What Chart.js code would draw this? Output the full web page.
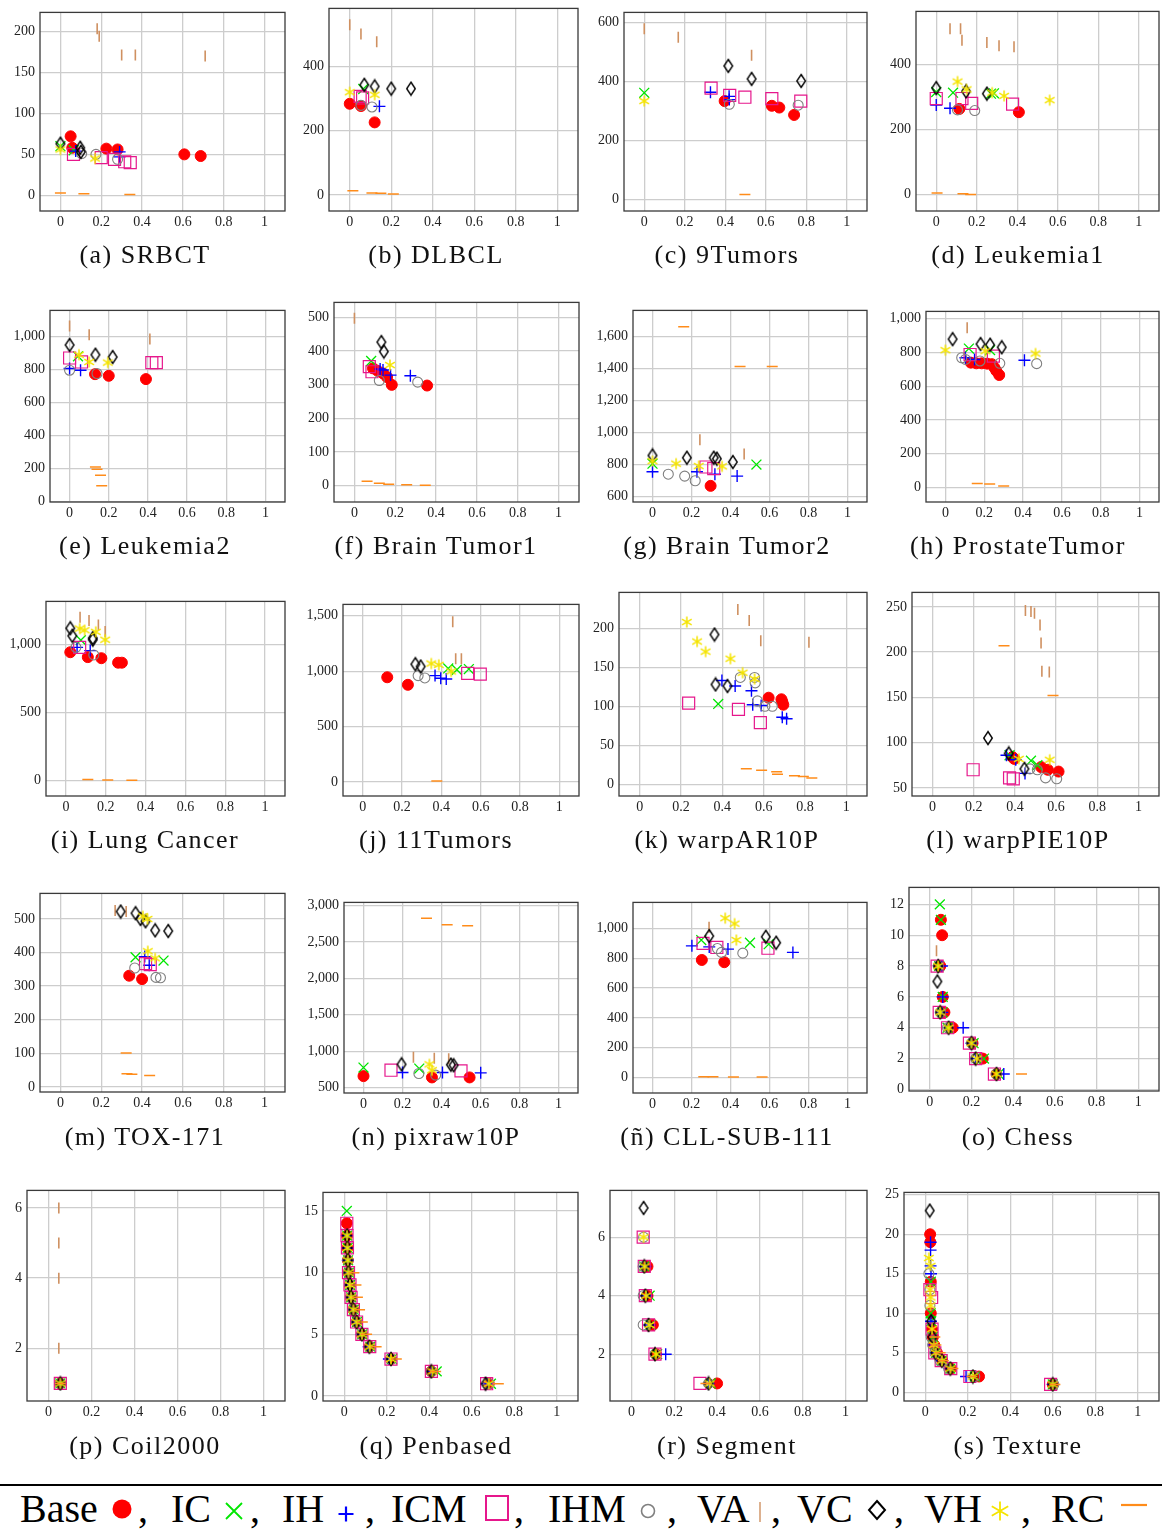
<!DOCTYPE html>
<html><head><meta charset="utf-8">
<script src="https://cdn.jsdelivr.net/npm/chart.js@4.4.1/dist/chart.umd.min.js"></script>
<style>
html,body{margin:0;padding:0;background:#fff;}
#page{position:relative;width:1162px;height:1538px;overflow:hidden;font-family:'Liberation Serif',serif;}
#page canvas{position:absolute;}
.cap{position:absolute;width:290px;text-align:center;font-size:26px;letter-spacing:1.5px;line-height:30px;height:30px;color:#111;white-space:nowrap;}
.lg{position:absolute;font-size:40px;line-height:40px;color:#000;white-space:nowrap;}
#rule{position:absolute;left:0;top:1484px;width:1162px;height:2px;background:#000;}
</style></head><body><div id="page"><div id="rule"></div></div>
<script>
// ---------------- DATA ----------------
const seriesNames = ['Base','IC','IH','ICM','IHM','VA','VC','VH','RC'];
const captions = ['(a) SRBCT','(b) DLBCL','(c) 9Tumors','(d) Leukemia1','(e) Leukemia2','(f) Brain Tumor1','(g) Brain Tumor2','(h) ProstateTumor','(i) Lung Cancer','(j) 11Tumors','(k) warpAR10P','(l) warpPIE10P','(m) TOX-171','(n) pixraw10P','(ñ) CLL-SUB-111','(o) Chess','(p) Coil2000','(q) Penbased','(r) Segment','(s) Texture'];
const xTickValues = [0,0.2,0.4,0.6,0.8,1];
const xLimits = [-0.1,1.1];
const yLimits = [[-19,223],[-50,581],[-39,633],[-50,564],[-4,1159],[-49,544],[565,1764],[-85,1042],[-116,1316],[-127,1603],[-15,246],[41,266],[-15,576],[425,3045],[-105,1176],[-0.1,13.1],[0.5,6.5],[-0.4,16.5],[0.4,7.6],[-1.1,25.3]];
const yTickValues = [[0,50,100,150,200],[0,200,400],[0,200,400,600],[0,200,400],[0,200,400,600,800,1000],[0,100,200,300,400,500],[600,800,1000,1200,1400,1600],[0,200,400,600,800,1000],[0,500,1000],[0,500,1000,1500],[0,50,100,150,200],[50,100,150,200,250],[0,100,200,300,400,500],[500,1000,1500,2000,2500,3000],[0,200,400,600,800,1000],[0,2,4,6,8,10,12],[2,4,6],[0,5,10,15],[2,4,6],[0,5,10,15,20,25]];

const baseData = [
 [[0.05,72],[0.058,58],[0.225,57],[0.28,56],[0.607,50],[0.687,48]],
 [[0,284],[0.054,277],[0.12,226]],
 [[0.397,333],[0.63,317],[0.667,311],[0.74,286]],
 [[0.114,264],[0.408,254]],
 [[0.13,772],[0.2,762],[0.39,742]],
 [[0.091,348],[0.113,341],[0.14,333],[0.16,322],[0.183,299],[0.356,297]],
 [[0.298,666]],
 [[0.131,739],[0.159,735],[0.187,735],[0.215,733],[0.239,730],[0.252,710],[0.262,691],[0.277,666]],
 [[0.022,942],[0.11,906],[0.178,898],[0.262,865],[0.281,865]],
 [[0.125,945],[0.23,877]],
 [[0.624,111],[0.686,109],[0.69,106],[0.695,102]],
 [[0.388,84],[0.397,82],[0.527,73],[0.56,70],[0.612,68]],
 [[0.337,331],[0.4,321]],
 [[0,657],[0.351,639],[0.544,639]],
 [[0.253,789],[0.368,774]],
 [[0.053,11],[0.059,10],[0.05,8],[0.062,6],[0.07,5],[0.11,4],[0.205,3],[0.254,2],[0.32,1]],
 [[0.055,1]],
 [[0.012,14],[0.013,13],[0.015,12],[0.017,11],[0.02,10],[0.027,9],[0.032,8],[0.043,7],[0.058,6],[0.083,5],[0.12,4],[0.22,3],[0.41,2],[0.68,1]],
 [[0.075,5],[0.075,4],[0.1,3],[0.115,2],[0.4,1]],
 [[0.023,20],[0.024,19],[0.026,14],[0.026,10],[0.032,8],[0.036,7],[0.042,6],[0.055,5],[0.08,4],[0.12,3],[0.253,2],[0.6,1]]
];
const icData = [
 [[0,60],[0.065,55]],
 [[0.065,330]],
 [[0,361]],
 [[0,316],[0.083,314],[0.27,311],[0.285,312]],
 [[0.043,880]],
 [[0.082,370]],
 [[0,805],[0.533,799]],
 [[0.121,822],[0.23,813]],
 [[0.075,1031]],
 [[0.435,1025],[0.479,1013],[0.54,1019]],
 [[0.38,103]],
 [[0.374,86],[0.478,80],[0.509,75]],
 [[0.368,386],[0.505,376]],
 [[0,774],[0.286,761]],
 [[0.25,923],[0.5,905],[0.596,895]],
 [[0.048,12],[0.053,11],[0.045,8],[0.062,6],[0.06,5],[0.085,4],[0.21,3],[0.26,2],[0.33,1]],
 [[0.055,1]],
 [[0.012,15],[0.014,13],[0.016,12],[0.018,11],[0.022,10],[0.028,9],[0.033,8],[0.045,7],[0.06,6],[0.085,5],[0.123,4],[0.225,3],[0.435,2],[0.69,1]],
 [[0.06,5],[0.085,4],[0.09,3],[0.12,2],[0.37,1]],
 [[0.026,14],[0.026,10],[0.028,9],[0.036,7],[0.05,5],[0.078,4],[0.118,3],[0.233,2],[0.6,1]]
];
const ihData = [
 [[0.075,54],[0.29,53],[0.29,47]],
 [[0.143,276]],
 [[0.327,363],[0.419,349],[0.42,338]],
 [[0,276],[0.068,266]],
 [[0,806],[0.056,796]],
 [[0.126,346],[0.14,343],[0.177,328],[0.274,326]],
 [[0,754],[0.228,754],[0.32,739],[0.434,727]],
 [[0.103,768],[0.15,758],[0.407,753]],
 [[0.056,978],[0.122,954]],
 [[0.368,960],[0.397,936],[0.425,930]],
 [[0.398,133],[0.462,126],[0.541,120],[0.547,102],[0.588,101],[0.69,86],[0.711,84]],
 [[0.359,86],[0.404,81],[0.449,66]],
 [[0.413,388],[0.435,362]],
 [[0.2,707],[0.405,707],[0.601,702]],
 [[0.202,884],[0.291,877],[0.387,862],[0.72,840]],
 [[0.058,8],[0.062,6],[0.06,5],[0.16,4],[0.2,3],[0.22,2],[0.355,1]],
 [[0.055,1]],
 [[0.012,13],[0.015,12],[0.017,11],[0.02,10],[0.027,9],[0.032,8],[0.043,7],[0.056,6],[0.082,5],[0.115,4],[0.21,3],[0.41,2],[0.675,1]],
 [[0.065,5],[0.07,4],[0.085,3],[0.16,2],[0.36,1]],
 [[0.025,19],[0.025,18],[0.025,16],[0.027,15],[0.027,9],[0.04,6],[0.05,5],[0.075,4],[0.115,3],[0.192,2],[0.6,1]]
];
const icmData = [
 [[0.064,50],[0.2,46],[0.265,44],[0.315,41],[0.342,40]],
 [[0.05,307],[0.062,302]],
 [[0.33,377],[0.422,352],[0.497,346],[0.63,341],[0.773,333]],
 [[0,296],[0.127,296],[0.175,281],[0.377,279]],
 [[0,870],[0.061,846],[0.42,842],[0.443,842]],
 [[0.073,353],[0.086,338]],
 [[0.274,784],[0.314,774]],
 [[0.127,787],[0.247,778]],
 [[0.069,978]],
 [[0.534,980],[0.598,974]],
 [[0.237,104],[0.478,96],[0.584,79]],
 [[0.197,70],[0.374,61],[0.392,60]],
 [[0.417,367],[0.44,364]],
 [[0.141,738],[0.5,729]],
 [[0.259,901],[0.33,873],[0.592,868]],
 [[0.035,8],[0.045,5],[0.085,4],[0.19,3],[0.22,2],[0.31,1]],
 [[0.055,1]],
 [[0.012,14],[0.013,13],[0.015,12],[0.02,10],[0.027,9],[0.032,8],[0.043,7],[0.058,6],[0.083,5],[0.12,4],[0.22,3],[0.41,2],[0.67,1]],
 [[0.055,6],[0.06,5],[0.065,4],[0.08,3],[0.11,2],[0.32,1]],
 [[0.022,13],[0.03,12],[0.032,8],[0.045,5],[0.075,4],[0.12,3],[0.21,2],[0.59,1]]
];
const ihmData = [
 [[0.104,51],[0.174,50],[0.28,44]],
 [[0.054,279],[0.107,274]],
 [[0.42,322],[0.76,319]],
 [[0.105,261],[0.19,259]],
 [[0,796],[0.14,776]],
 [[0.122,312],[0.31,307]],
 [[0.081,739],[0.165,727],[0.219,698]],
 [[0.084,768],[0.103,758],[0.178,749],[0.28,735],[0.47,733]],
 [[0.05,978],[0.14,922]],
 [[0.282,960],[0.316,939]],
 [[0.487,137],[0.556,137],[0.559,130],[0.57,107],[0.606,100],[0.642,100]],
 [[0.473,71],[0.509,70],[0.549,61],[0.603,60]],
 [[0.364,354],[0.468,326],[0.49,325]],
 [[0.284,693],[0.37,671]],
 [[0.333,866],[0.354,840],[0.463,835]],
 [[0.04,8],[0.05,5],[0.085,4],[0.2,3],[0.22,2],[0.32,1]],
 [[0.055,1]],
 [[0.017,11],[0.02,10],[0.027,9],[0.032,8],[0.043,7],[0.058,6],[0.083,5],[0.12,4],[0.22,3],[0.41,2],[0.68,1]],
 [[0.057,6],[0.055,5],[0.055,4],[0.055,3],[0.11,2],[0.36,1]],
 [[0.017,15],[0.022,13],[0.022,11],[0.028,7],[0.035,6],[0.045,5],[0.07,4],[0.11,3],[0.233,2],[0.605,1]]
];
const vaData = [
 [[0.18,203],[0.19,194],[0.30,171],[0.367,171],[0.709,170]],
 [[0,530],[0.054,501],[0.13,477]],
 [[0,578],[0.168,549],[0.53,488]],
 [[0.068,511],[0.12,511],[0.127,475],[0.25,468],[0.31,458],[0.384,455]],
 [[0,1065],[0.1,1011],[0.41,985]],
 [[0,497]],
 [[0.243,954],[0.47,866]],
 [[0.112,946]],
 [[0.071,1200],[0.116,1176],[0.163,1142],[0.197,1094]],
 [[0.458,1447],[0.473,1113],[0.502,1113]],
 [[0.475,224],[0.53,210],[0.586,184],[0.819,182]],
 [[0.451,246],[0.478,245],[0.495,243],[0.522,230],[0.527,210],[0.531,179],[0.567,178]],
 [[0.268,525],[0.322,522]],
 [[0.256,918],[0.363,904],[0.437,895]],
 [[0.29,1009]],
 [[0.032,9]],
 [[0.048,6],[0.048,5],[0.048,4],[0.048,2]],
 [],
 [],
 []
];
const vcData = [
 [[0,63],[0.097,58],[0.1,53]],
 [[0.07,343],[0.12,338],[0.2,331],[0.295,331]],
 [[0.415,452],[0.53,408],[0.775,401]],
 [[0,328],[0.147,318],[0.25,311]],
 [[0,949],[0.132,890],[0.22,876]],
 [[0.132,426],[0.144,398]],
 [[0,856],[0.176,842],[0.314,842],[0.33,836],[0.412,815]],
 [[0.037,878],[0.181,849],[0.23,845],[0.29,830]],
 [[0.022,1118],[0.032,1063],[0.135,1046],[0.135,1034]],
 [[0.268,1063],[0.295,1042]],
 [[0.362,192],[0.367,128],[0.425,126]],
 [[0.269,105],[0.37,88],[0.446,71]],
 [[0.295,522],[0.368,517],[0.392,500],[0.417,493],[0.464,466],[0.528,464]],
 [[0.195,819],[0.448,815],[0.462,806]],
 [[0.291,950],[0.581,945],[0.634,905]],
 [[0.036,7],[0.04,8],[0.05,5],[0.09,4],[0.2,3],[0.22,2],[0.32,1]],
 [[0.055,1]],
 [[0.013,13],[0.015,12],[0.017,11],[0.02,10],[0.027,9],[0.032,8],[0.043,7],[0.058,6],[0.083,5],[0.118,4],[0.22,3],[0.41,2],[0.665,1]],
 [[0.057,7],[0.06,5],[0.065,4],[0.08,3],[0.11,2],[0.36,1]],
 [[0.021,23],[0.028,9],[0.034,7],[0.048,5],[0.078,4],[0.118,3],[0.224,2],[0.6,1]]
];
const vhData = [
 [[0,56],[0.17,45]],
 [[0,320],[0.12,312]],
 [[0,333]],
 [[0.105,348],[0.15,324],[0.276,314],[0.335,304],[0.56,291]],
 [[0.048,890],[0.1,846],[0.195,842]],
 [[0.174,358]],
 [[0,821],[0.121,805],[0.237,790],[0.357,788]],
 [[0,813],[0.206,807],[0.464,793]],
 [[0.069,1116],[0.094,1104],[0.15,1092],[0.197,1034]],
 [[0.349,1069],[0.387,1057],[0.45,998]],
 [[0.228,208],[0.278,183],[0.319,170],[0.439,161],[0.498,143],[0.556,135]],
 [[0.419,82],[0.569,81]],
 [[0.404,508],[0.426,500],[0.428,404],[0.464,383]],
 [[0.338,819],[0.351,738]],
 [[0.373,1070],[0.421,1033],[0.43,923]],
 [[0.04,8],[0.05,5],[0.09,4],[0.2,3],[0.225,2],[0.32,1]],
 [[0.055,1]],
 [[0.013,13],[0.015,12],[0.017,11],[0.02,10],[0.027,9],[0.032,8],[0.043,7],[0.058,6],[0.083,5],[0.12,4],[0.22,3],[0.415,2],[0.68,1]],
 [[0.057,6],[0.062,5],[0.068,4],[0.085,3],[0.115,2],[0.365,1]],
 [[0.017,17],[0.025,16],[0.023,13],[0.025,12],[0.025,11],[0.032,8],[0.04,6],[0.05,5],[0.078,4],[0.118,3],[0.224,2],[0.6,1]]
];
const rcData = [
 [[0,3],[0.115,2],[0.34,1]],
 [[0.015,13],[0.107,6],[0.15,5],[0.21,3]],
 [[0.497,17]],
 [[0.004,5],[0.132,3],[0.17,1]],
 [[0.132,209],[0.14,195],[0.158,159],[0.164,94]],
 [[0.062,13],[0.122,7],[0.168,4],[0.256,2],[0.347,1]],
 [[0.16,1661],[0.449,1413],[0.614,1413]],
 [[0.164,25],[0.228,21],[0.3,10]],
 [[0.11,5],[0.21,2],[0.331,0]],
 [[0.377,9]],
 [[0.516,20],[0.59,18],[0.663,16],[0.667,13],[0.749,11],[0.792,10],[0.833,8]],
 [[0.347,207],[0.585,152]],
 [[0.322,101],[0.326,39],[0.35,38],[0.437,34]],
 [[0.323,2828],[0.429,2738],[0.534,2725]],
 [[0.263,4],[0.31,4],[0.415,2],[0.562,2]],
 [[0.44,1]],
 [[0.055,1]],
 [[0.045,10],[0.055,9],[0.062,8],[0.072,7],[0.085,6],[0.105,5],[0.15,4],[0.245,3],[0.43,2],[0.725,1]],
 [[0.348,1]],
 [[0.045,7],[0.05,6],[0.07,5],[0.085,4],[0.13,3],[0.22,2],[0.61,1]]
];
const allSeries = [baseData, icData, ihData, icmData, ihmData, vaData, vcData, vhData, rcData];

// ---------------- LAYOUT & STYLE ----------------
const plotBoxes = [
 [40,9,285,211],[329,5,578,211],[624,9,867,211],[916,8,1159,211],
 [50,307,285,502],[334,299,579,502],[633,307,867,502],[926,308,1159,502],
 [46,598,285,796],[343,601,579,796],[619,589,867,796],[912,589,1159,796],
 [40,890,285,1092],[344,899,578,1093],[633,899,867,1093],[909,884,1159,1091],
 [27,1187,285,1401],[323,1189,578,1401],[610,1187,867,1401],[904,1189,1159,1401]
];
const captionRowY = [255,546,840,1137,1446];
const columnCenters = [145,436,727,1018];

function makeMarker(w, h, draw){
  const c = document.createElement('canvas'); c.width = w; c.height = h;
  draw(c.getContext('2d'), w, h); return c;
}
// tall open diamond (VC)
const diamondMarker = makeMarker(12, 16, (x) => {
  x.strokeStyle = '#000'; x.lineWidth = 1.4; x.beginPath();
  x.moveTo(6, 1.5); x.lineTo(10.3, 8); x.lineTo(6, 14.5); x.lineTo(1.7, 8); x.closePath(); x.stroke();
});
// six-armed asterisk (VH)
const asteriskMarker = makeMarker(14, 14, (x) => {
  x.strokeStyle = '#f5e400'; x.lineWidth = 1.5; x.beginPath();
  [90, 30, 150].forEach(a => { const t = a*Math.PI/180, r = 5.6;
    x.moveTo(7 - Math.cos(t)*r, 7 - Math.sin(t)*r); x.lineTo(7 + Math.cos(t)*r, 7 + Math.sin(t)*r); });
  x.stroke();
});
const seriesStyles = [
 {ps:'circle', r:5.5, bg:'#ff0000', bc:'#ff0000', bw:1, rot:0},
 {ps:'crossRot', r:7, bg:'rgba(0,0,0,0)', bc:'#00e600', bw:1.3, rot:0},
 {ps:'cross', r:6, bg:'rgba(0,0,0,0)', bc:'#0000ff', bw:1.4, rot:0},
 {ps:'rect', r:8.5, bg:'rgba(0,0,0,0)', bc:'#e6178c', bw:1.2, rot:0},
 {ps:'circle', r:5, bg:'rgba(0,0,0,0)', bc:'#808080', bw:1.1, rot:0},
 {ps:'line', r:5.5, bg:'rgba(0,0,0,0)', bc:'#cf9060', bw:1.6, rot:90},
 {ps:diamondMarker, r:6, bg:'rgba(0,0,0,0)', bc:'#000000', bw:1, rot:0},
 {ps:asteriskMarker, r:6, bg:'rgba(0,0,0,0)', bc:'#f5e400', bw:1.3, rot:0},
 {ps:'line', r:5.5, bg:'rgba(0,0,0,0)', bc:'#ff8c1a', bw:1.5, rot:0}
];
const tickFont = {family:"'Liberation Serif', serif", size:14};
const gridStyle = {color:'#cdcdcd', lineWidth:1.3, drawTicks:false};
const Y_AXIS_W = 60, X_AXIS_H = 30, PAD_T = 10, PAD_R = 10;

const framePlugin = {
  id:'frame',
  afterDraw(chart){
    const {ctx, chartArea:a} = chart;
    ctx.save();
    ctx.strokeStyle = '#3a3a3a';
    ctx.lineWidth = 1.3;
    ctx.strokeRect(a.left, a.top, a.right - a.left, a.bottom - a.top);
    ctx.restore();
  }
};

const page = document.getElementById('page');
function fmtX(v){ return String(Math.round(v*10)/10); }
function fmtY(v){ return Number(v).toLocaleString('en-US'); }

for (let i = 0; i < plotBoxes.length; i++) {
  const [L,T,R,B] = plotBoxes[i];
  const cv = document.createElement('canvas');
  const W = (R - L) + Y_AXIS_W + PAD_R, H = (B - T) + PAD_T + X_AXIS_H;
  cv.width = W; cv.height = H;
  cv.style.left = (L - Y_AXIS_W) + 'px';
  cv.style.top = (T - PAD_T) + 'px';
  cv.style.width = W + 'px'; cv.style.height = H + 'px';
  page.appendChild(cv);

  const datasets = allSeries.map((s, k) => {
    const st = seriesStyles[k];
    return {
      label: seriesNames[k],
      data: s[i].map(p => ({x:p[0], y:p[1]})),
      pointStyle: st.ps, pointRadius: st.r, pointRotation: st.rot,
      pointBackgroundColor: st.bg, pointBorderColor: st.bc, pointBorderWidth: st.bw,
      pointHoverRadius: st.r,
      showLine: false,
      order: seriesNames.length - k
    };
  });
  const yT = yTickValues[i];
  new Chart(cv, {
    type:'scatter',
    data:{datasets},
    options:{
      responsive:false, animation:false, devicePixelRatio:1, events:[],
      layout:{padding:{left:0, top:PAD_T, right:PAD_R, bottom:0}},
      plugins:{legend:{display:false}, tooltip:{enabled:false}},
      scales:{
        x:{type:'linear', min:xLimits[0], max:xLimits[1],
           afterBuildTicks: sc => { sc.ticks = xTickValues.map(v => ({value:v})); },
           afterFit: sc => { sc.height = X_AXIS_H; },
           ticks:{padding:3, font:tickFont, color:'#222', callback: v => fmtX(v), autoSkip:false, maxRotation:0},
           grid:gridStyle, border:{display:false}},
        y:{type:'linear', min:yLimits[i][0], max:yLimits[i][1],
           afterBuildTicks: sc => { sc.ticks = yT.map(v => ({value:v})); },
           afterFit: sc => { sc.width = Y_AXIS_W; },
           ticks:{padding:5, font:tickFont, color:'#222', callback: v => fmtY(v), autoSkip:false},
           grid:gridStyle, border:{display:false}}
      }
    },
    plugins:[framePlugin]
  });

  const row = i < 16 ? Math.floor(i/4) : 4;
  const col = i < 16 ? i % 4 : i - 16;
  const cap = document.createElement('div');
  cap.className = 'cap';
  cap.textContent = captions[i];
  cap.style.left = (columnCenters[col] - 145) + 'px';
  cap.style.top = (captionRowY[row] - 15) + 'px';
  page.appendChild(cap);
}

// ---------------- LEGEND ----------------
const legendLabelX = [20,171,282,391,548,697,797,924,1051];
const legendCommaX = [138,250,365,514,667,771,894,1021];
const legendMarkX = [122,234,346,497,648,760,877,1000,1134];
const legendMarkY = [1509,1511,1514,1508,1511,1512,1510,1511,1505];
const LG_TOP = 1489;
seriesNames.forEach((n, k) => {
  const d = document.createElement('div');
  d.className = 'lg'; d.textContent = n;
  d.style.left = legendLabelX[k] + 'px'; d.style.top = LG_TOP + 'px';
  page.appendChild(d);
  if (k < legendCommaX.length) {
    const c = document.createElement('div');
    c.className = 'lg'; c.textContent = ',';
    c.style.left = legendCommaX[k] + 'px'; c.style.top = LG_TOP + 'px';
    page.appendChild(c);
  }
});
const lc = document.createElement('canvas');
lc.width = 1162; lc.height = 50; lc.style.left = '0px'; lc.style.top = '1488px';
page.appendChild(lc);
const g = lc.getContext('2d');
function mk(k, x, y){
  y -= 1488;
  const st = seriesStyles[k];
  g.save(); g.strokeStyle = st.bc; g.fillStyle = st.bc; g.lineWidth = 1.8;
  g.beginPath();
  switch(k){
    case 0: g.arc(x, y, 9.5, 0, Math.PI*2); g.fill(); break;
    case 1: g.moveTo(x-8,y-8); g.lineTo(x+8,y+8); g.moveTo(x+8,y-8); g.lineTo(x-8,y+8); g.stroke(); break;
    case 2: g.lineWidth=2.2; g.moveTo(x-7.5,y); g.lineTo(x+7.5,y); g.moveTo(x,y-7.5); g.lineTo(x,y+7.5); g.stroke(); break;
    case 3: g.lineWidth=2; g.strokeRect(x-11,y-12,22,24); break;
    case 4: g.lineWidth=1.6; g.arc(x, y, 6.5, 0, Math.PI*2); g.stroke(); break;
    case 5: g.lineWidth=1.4; g.moveTo(x,y-10); g.lineTo(x,y+10); g.stroke(); break;
    case 6: g.lineWidth=2; g.moveTo(x,y-9); g.lineTo(x+8,y); g.lineTo(x,y+9); g.lineTo(x-8,y); g.closePath(); g.stroke(); break;
    case 7: for (let a = 0; a < 3; a++){ const t = a*Math.PI/3 + Math.PI/2; g.moveTo(x-Math.cos(t)*9.5, y-Math.sin(t)*9.5); g.lineTo(x+Math.cos(t)*9.5, y+Math.sin(t)*9.5);} g.stroke(); break;
    case 8: g.lineWidth=2.2; g.moveTo(x-13,y); g.lineTo(x+13,y); g.stroke(); break;
  }
  g.restore();
}
legendMarkX.forEach((x, k) => mk(k, x, legendMarkY[k]));
</script>
</body></html>
